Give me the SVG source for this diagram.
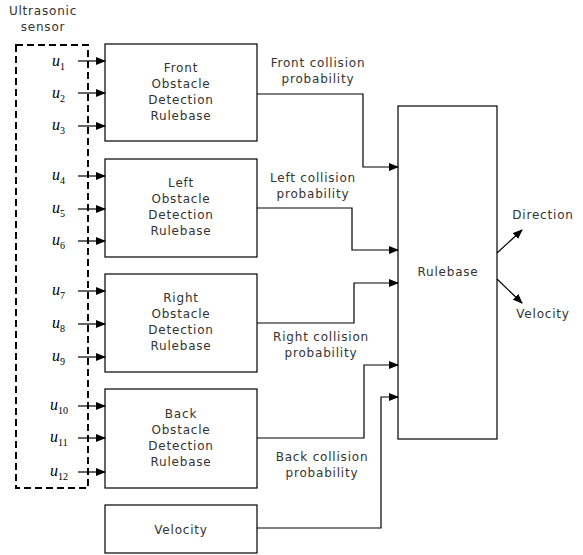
<svg xmlns="http://www.w3.org/2000/svg" width="583" height="555" viewBox="0 0 583 555">
<style>
.box{fill:#fff;stroke:#000;stroke-width:1.2}
.t{font-family:"DejaVu Sans","Liberation Sans",sans-serif;font-size:12px;fill:#333;text-anchor:middle;letter-spacing:0.8px}
.u{font-family:"Liberation Serif",serif;font-style:italic;font-size:16px;fill:#000}
.s{font-family:"Liberation Serif",serif;font-style:normal;font-size:10px}
.c{fill:none;stroke:#000;stroke-width:1.2}
</style>
<defs>
<marker id="ah" markerWidth="10" markerHeight="8" refX="9" refY="4" orient="auto" markerUnits="userSpaceOnUse">
<path d="M0,0 L10,4 L0,8 z" fill="#000"/>
</marker>
</defs>
<rect fill="#fff" width="583" height="555"/>
<g id="sensor">
<rect x="16" y="45" width="72" height="443" fill="none" stroke="#000" stroke-width="2" stroke-dasharray="7,4"/>
<text class="t" x="43" y="15">Ultrasonic</text>
<text class="t" x="43" y="31">sensor</text>
<text class="u" x="52" y="66">u<tspan class="s" dy="4">1</tspan></text>
<text class="u" x="52" y="98">u<tspan class="s" dy="4">2</tspan></text>
<text class="u" x="52" y="130">u<tspan class="s" dy="4">3</tspan></text>
<text class="u" x="52" y="180">u<tspan class="s" dy="4">4</tspan></text>
<text class="u" x="52" y="213">u<tspan class="s" dy="4">5</tspan></text>
<text class="u" x="52" y="245">u<tspan class="s" dy="4">6</tspan></text>
<text class="u" x="52" y="295">u<tspan class="s" dy="4">7</tspan></text>
<text class="u" x="52" y="328">u<tspan class="s" dy="4">8</tspan></text>
<text class="u" x="52" y="361">u<tspan class="s" dy="4">9</tspan></text>
<text class="u" x="50" y="410">u<tspan class="s" dy="4">10</tspan></text>
<text class="u" x="50" y="442">u<tspan class="s" dy="4">11</tspan></text>
<text class="u" x="50" y="476">u<tspan class="s" dy="4">12</tspan></text>
</g>
<g id="front">
<rect class="box" x="105" y="44" width="152" height="97"/>
<text class="t" x="181" y="72">Front</text>
<text class="t" x="181" y="88">Obstacle</text>
<text class="t" x="181" y="104">Detection</text>
<text class="t" x="181" y="120">Rulebase</text>
</g>
<g id="left">
<rect class="box" x="105" y="159" width="152" height="98"/>
<text class="t" x="181" y="187">Left</text>
<text class="t" x="181" y="203">Obstacle</text>
<text class="t" x="181" y="219">Detection</text>
<text class="t" x="181" y="235">Rulebase</text>
</g>
<g id="right">
<rect class="box" x="105" y="274" width="152" height="98"/>
<text class="t" x="181" y="302">Right</text>
<text class="t" x="181" y="318">Obstacle</text>
<text class="t" x="181" y="334">Detection</text>
<text class="t" x="181" y="350">Rulebase</text>
</g>
<g id="back">
<rect class="box" x="105" y="389" width="152" height="99"/>
<text class="t" x="181" y="418">Back</text>
<text class="t" x="181" y="434">Obstacle</text>
<text class="t" x="181" y="450">Detection</text>
<text class="t" x="181" y="466">Rulebase</text>
</g>
<g id="velocity">
<rect class="box" x="105" y="505" width="152" height="48"/>
<text class="t" x="181" y="534">Velocity</text>
</g>
<g id="rulebase">
<rect class="box" x="398" y="106" width="99" height="333"/>
<text class="t" x="448" y="276">Rulebase</text>
</g>
<g id="labels">
<text class="t" x="318" y="67">Front collision</text>
<text class="t" x="318" y="83">probability</text>
<text class="t" x="313" y="182">Left collision</text>
<text class="t" x="313" y="198">probability</text>
<text class="t" x="321" y="341">Right collision</text>
<text class="t" x="321" y="357">probability</text>
<text class="t" x="322" y="461">Back collision</text>
<text class="t" x="322" y="477">probability</text>
<text class="t" x="543" y="219">Direction</text>
<text class="t" x="543" y="318">Velocity</text>
</g>
<g id="connectors">
<line class="c" x1="78" y1="61" x2="105" y2="61" marker-end="url(#ah)"/>
<line class="c" x1="78" y1="93" x2="105" y2="93" marker-end="url(#ah)"/>
<line class="c" x1="78" y1="126" x2="105" y2="126" marker-end="url(#ah)"/>
<line class="c" x1="78" y1="176" x2="105" y2="176" marker-end="url(#ah)"/>
<line class="c" x1="78" y1="209" x2="105" y2="209" marker-end="url(#ah)"/>
<line class="c" x1="78" y1="241" x2="105" y2="241" marker-end="url(#ah)"/>
<line class="c" x1="78" y1="291" x2="105" y2="291" marker-end="url(#ah)"/>
<line class="c" x1="78" y1="324" x2="105" y2="324" marker-end="url(#ah)"/>
<line class="c" x1="78" y1="357" x2="105" y2="357" marker-end="url(#ah)"/>
<line class="c" x1="78" y1="406" x2="105" y2="406" marker-end="url(#ah)"/>
<line class="c" x1="78" y1="438" x2="105" y2="438" marker-end="url(#ah)"/>
<line class="c" x1="78" y1="472" x2="105" y2="472" marker-end="url(#ah)"/>
<polyline class="c" points="257,94 363,94 363,167 398,167" marker-end="url(#ah)"/>
<polyline class="c" points="257,208 352,208 352,250 398,250" marker-end="url(#ah)"/>
<polyline class="c" points="257,323 354,323 354,283 398,283" marker-end="url(#ah)"/>
<polyline class="c" points="257,438 364,438 364,365 398,365" marker-end="url(#ah)"/>
<polyline class="c" points="257,528 381,528 381,397 398,397" marker-end="url(#ah)"/>
<line class="c" x1="497" y1="253" x2="522" y2="230" marker-end="url(#ah)"/>
<line class="c" x1="497" y1="279" x2="522" y2="303" marker-end="url(#ah)"/>
</g>
</svg>
